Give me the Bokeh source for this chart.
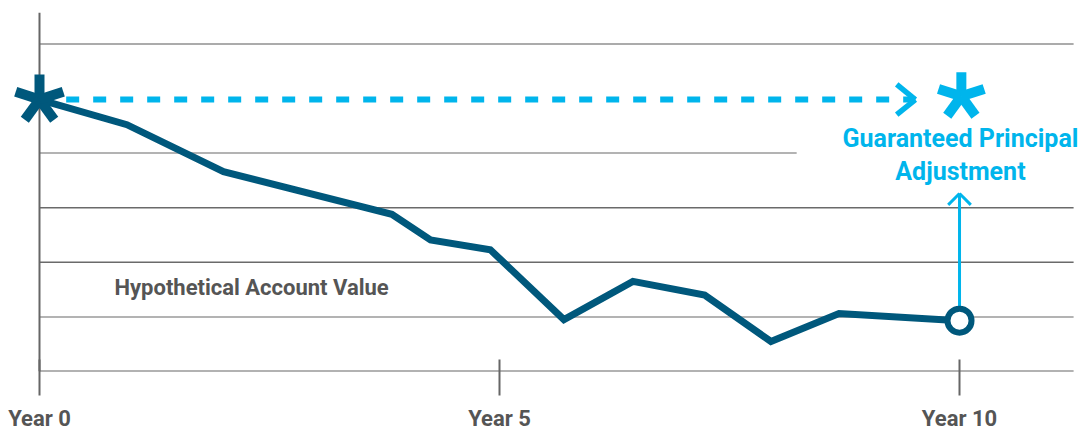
from bokeh.plotting import figure
from bokeh.models import Range1d, FixedTicker
from bokeh.core.properties import value
from bokeh.embed import file_html
from bokeh.resources import INLINE

# ---------------- data ----------------
years = [0, 0.95, 2.0, 3.83, 4.25, 4.90, 5.70, 6.45, 7.23, 7.95, 8.69, 10.0]
account_value = [4.98, 4.52, 3.66, 2.88, 2.41, 2.23, 0.95, 1.65, 1.40, 0.55, 1.06, 0.93]
tick_years = [0, 5, 10]
tick_labels = ["Year 0", "Year 5", "Year 10"]
grid_levels = [1, 2, 3, 4, 6]
grid_ends = [11.24, 11.24, 11.24, 8.23, 11.24]
guaranteed_value = 4.98
series_label = "Hypothetical Account Value"
guarantee_label = ["Guaranteed Principal", "Adjustment"]

# ---------------- styles / annotation positions ----------------
DARK = "#00587c"
CYAN = "#00b5ec"
TEXT_GRAY = "#555555"
AXIS_GRAY = "#666666"
grid_colors = ["#9a9a9a", "#6a6a6a", "#6a6a6a", "#9a9a9a", "#8f8f8f"]
FONT = value("Roboto")

X_MIN, X_MAX = -0.4239, 11.315
Y_MIN, Y_MAX = 0, 6.575
axis_end_x = 11.24
dash_start_x = 0.29
dash_tip_x = 9.52
star_arm_angles = [90, 162, 234, 306, 18]
guarantee_star = (10.02, 5.04)
up_arrow_tip_y = 3.26
series_label_pos = (0.815, 1.535)
guarantee_label_x = 10.01
guarantee_label_y = [4.275, 3.655]

p = figure(width=1080, height=434,
           x_range=Range1d(X_MIN, X_MAX), y_range=Range1d(Y_MIN, Y_MAX),
           output_backend="svg", toolbar_location=None,
           y_axis_location=None,
           min_border_left=0, min_border_right=0, min_border_top=12, min_border_bottom=63,
           background_fill_color="white", border_fill_color="white",
           outline_line_color=None)
p.xgrid.visible = False
p.ygrid.visible = False

# x axis: ticks and labels
xa = p.xaxis[0]
xa.ticker = FixedTicker(ticks=tick_years)
xa.major_label_overrides = {t: l for t, l in zip(tick_years, tick_labels)}
xa.major_tick_in = 12
xa.major_tick_out = 24
xa.minor_tick_in = 0
xa.minor_tick_out = 0
xa.major_tick_line_color = AXIS_GRAY
xa.major_tick_line_width = 2
xa.axis_line_color = None
xa.major_label_standoff = 10
xa.major_label_text_font = "Roboto"
xa.major_label_text_font_style = "bold"
xa.major_label_text_font_size = "22px"
xa.major_label_text_color = TEXT_GRAY

# gridlines
p.segment(x0=[0] * len(grid_levels), y0=grid_levels, x1=grid_ends, y1=grid_levels,
          line_color=grid_colors, line_width=1.5)

# axis lines (baseline and vertical axis at year 0)
p.segment(x0=[0, 0], y0=[0, 0], x1=[axis_end_x, 0], y1=[0, Y_MAX],
          line_color=AXIS_GRAY, line_width=2)

# account value line
p.line(years, account_value, line_color=DARK, line_width=7, line_join="miter")

# dashed guarantee line + chevron head
p.line([dash_start_x, dash_tip_x], [guaranteed_value, guaranteed_value],
       line_color=CYAN, line_width=6, line_dash="13 14")
p.ray(x=[dash_tip_x, dash_tip_x], y=[guaranteed_value, guaranteed_value],
      angle=[141, 219], angle_units="deg", length=24, length_units="screen",
      line_color=CYAN, line_width=5.5)

# starting star (dark)
p.ray(x=[years[0]] * 5, y=[account_value[0]] * 5, angle=star_arm_angles, angle_units="deg",
      length=25, length_units="screen", line_color=DARK, line_width=10)

# guarantee star (cyan)
p.ray(x=[guarantee_star[0]] * 5, y=[guarantee_star[1]] * 5, angle=star_arm_angles,
      angle_units="deg", length=24, length_units="screen", line_color=CYAN, line_width=10)

# vertical arrow from final value up to label
p.segment(x0=[years[-1]], y0=[account_value[-1]], x1=[years[-1]], y1=[up_arrow_tip_y],
          line_color=CYAN, line_width=3)
p.ray(x=[years[-1]] * 2, y=[up_arrow_tip_y] * 2, angle=[225, 315], angle_units="deg",
      length=16, length_units="screen", line_color=CYAN, line_width=3)

# end circle
p.scatter([years[-1]], [account_value[-1]], marker="circle", size=24,
          fill_color="white", line_color=DARK, line_width=6)

# texts
p.text(x=[series_label_pos[0]], y=[series_label_pos[1]], text=[series_label],
       text_font=FONT, text_font_style="bold", text_font_size="22px",
       text_color=TEXT_GRAY, text_align="left", text_baseline="alphabetic")
p.text(x=[guarantee_label_x] * 2, y=guarantee_label_y, text=guarantee_label,
       text_font=FONT, text_font_style="bold", text_font_size="25px",
       text_color=CYAN, text_align="center", text_baseline="alphabetic")

open("out.html", "w").write(file_html(p, INLINE))
